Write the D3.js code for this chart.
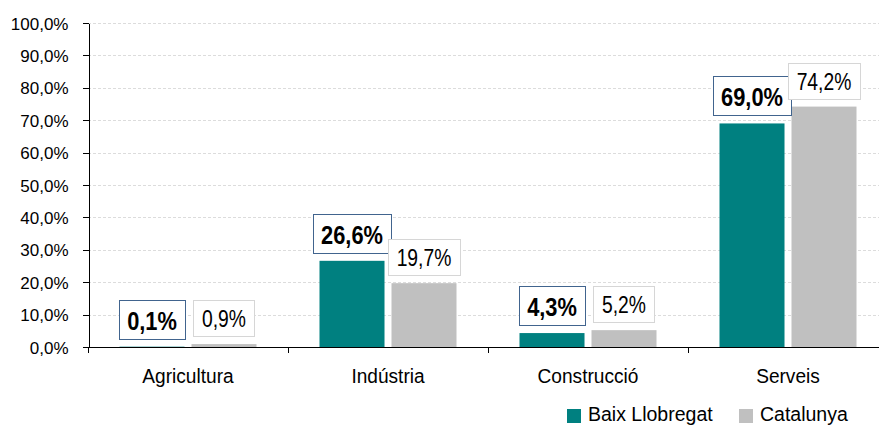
<!DOCTYPE html>
<html>
<head>
  <meta charset="utf-8">
  <title>Ocupació per sectors</title>
  <script src="https://d3js.org/d3.v7.min.js"></script>
<style type="text/css">
body {
  margin: 0;
  background: #fff;
  font-family: "Liberation Sans", Arial, sans-serif;
}
svg text { fill: #000; }
.grid line { stroke: #dcdcdc; stroke-dasharray: 3,2; }
.axis path, .axis line { stroke: #000; shape-rendering: crispEdges; }
</style>
</head>
<body>
<svg id="chart" width="879" height="426"></svg>
<script type="text/javascript">

// data
let categories = ['Agricultura', 'Indústria', 'Construcció', 'Serveis'];
let seriesNames = ['Baix Llobregat', 'Catalunya'];
let baixLlobregat = [0.1, 26.6, 4.3, 69.0];
let catalunya = [0.9, 19.7, 5.2, 74.2];
let yTicks = [0, 10, 20, 30, 40, 50, 60, 70, 80, 90, 100];

let colors = { 'Baix Llobregat': '#008080', 'Catalunya': '#c0c0c0' };
let boxStroke = { 'Baix Llobregat': '#41648e', 'Catalunya': '#d6d6d6' };

let rows = categories.map((c, i) => ({
  cat: c,
  values: [
    { key: seriesNames[0], value: baixLlobregat[i] },
    { key: seriesNames[1], value: catalunya[i] }
  ]
}));

let svg = d3.select('#chart');
let mLeft = 88, mRight = 888, mTop = 23, mBottom = 347;

let x0 = d3.scaleBand().domain(categories).range([mLeft, mRight]).padding(0);
let x1 = d3.scaleBand().domain(seriesNames).range([0, x0.bandwidth()])
  .paddingInner(0.097).paddingOuter(0.4375);
let y = d3.scaleLinear().domain([0, 100]).range([mBottom, mTop]);

let fmt = v => v.toFixed(1).replace('.', ',') + '%';

// narrow-looking text: scale horizontally around the anchor point
function narrow(sel, x, yy, s) {
  return sel.attr('x', 0).attr('y', 0)
    .attr('transform', 'translate(' + x + ',' + yy + ') scale(' + s + ',1)');
}

// gridlines
svg.append('g').attr('class', 'grid')
  .selectAll('line')
  .data(yTicks.filter(d => d > 0))
  .enter().append('line')
  .attr('x1', mLeft).attr('x2', 879)
  .attr('y1', d => Math.round(y(d)) + 0.5)
  .attr('y2', d => Math.round(y(d)) + 0.5);

// y axis
let yAxis = svg.append('g').attr('class', 'axis')
  .attr('transform', 'translate(' + (mLeft + 0.5) + ',0)')
  .call(d3.axisLeft(y).tickValues(yTicks).tickSize(6).tickSizeOuter(0)
    .tickFormat(d => fmt(d)));
yAxis.selectAll('text')
  .attr('x', -20)
  .attr('dy', '0.36em')
  .style('font-size', '17px')
  .style('font-family', 'inherit');

// bars
let groups = svg.append('g').selectAll('g')
  .data(rows)
  .enter().append('g')
  .attr('transform', d => 'translate(' + x0(d.cat) + ',0)');

groups.selectAll('rect')
  .data(d => d.values)
  .enter().append('rect')
  .attr('x', d => x1(d.key))
  .attr('width', x1.bandwidth())
  .attr('y', d => y(d.value))
  .attr('height', d => y(0) - y(d.value))
  .attr('fill', d => colors[d.key]);

// x axis
let xAxisG = svg.append('g').attr('class', 'axis');
xAxisG.append('line')
  .attr('x1', mLeft).attr('x2', 879)
  .attr('y1', mBottom + 0.5).attr('y2', mBottom + 0.5);
xAxisG.selectAll('line.tick')
  .data(categories.concat(['end']))
  .enter().append('line')
  .attr('class', 'tick')
  .attr('x1', (d, i) => Math.round(mLeft + i * x0.step()) + 0.5)
  .attr('x2', (d, i) => Math.round(mLeft + i * x0.step()) + 0.5)
  .attr('y1', mBottom).attr('y2', mBottom + 6);

svg.append('g').selectAll('text')
  .data(categories)
  .enter().append('text')
  .each(function(d) {
    narrow(d3.select(this), x0(d) + x0.bandwidth() / 2, 383, 0.91);
  })
  .attr('text-anchor', 'middle')
  .style('font-size', '21px')
  .text(d => d);

// value labels (boxes)
groups.each(function(row) {
  let g = d3.select(this);
  row.values.forEach(v => {
    let bold = v.key === seriesNames[0];
    let cx = x1(v.key) + x1.bandwidth() / 2;
    let boxBottom = y(v.value) - 8;
    let sx = bold ? 0.84 : 0.84;
    let lg = g.append('g');
    let rect = lg.append('rect');
    let t = lg.append('text')
      .attr('text-anchor', 'middle')
      .style('font-size', bold ? '26px' : '23px')
      .style('font-weight', bold ? 'bold' : 'normal')
      .text(fmt(v.value));
    narrow(t, cx, boxBottom - 9, sx);
    let w = t.node().getComputedTextLength() * sx + (bold ? 16 : 17);
    let h = bold ? 39 : 36;
    rect.attr('x', Math.round(cx - w / 2) + 0.5)
      .attr('y', Math.round(boxBottom - h) + 0.5)
      .attr('width', Math.round(w))
      .attr('height', h)
      .attr('fill', '#fff')
      .attr('stroke', boxStroke[v.key])
      .attr('stroke-width', 1);
  });
});

// legend
let legend = svg.append('g').attr('transform', 'translate(567,409)');
let legendX = [0, 172];
seriesNames.forEach((s, i) => {
  legend.append('rect')
    .attr('x', legendX[i]).attr('y', 0)
    .attr('width', 14).attr('height', 14)
    .attr('fill', colors[s]);
  legend.append('text')
    .attr('x', legendX[i] + 21).attr('y', 12)
    .style('font-size', '19.5px')
    .text(s);
});

</script>
</body>
</html>
